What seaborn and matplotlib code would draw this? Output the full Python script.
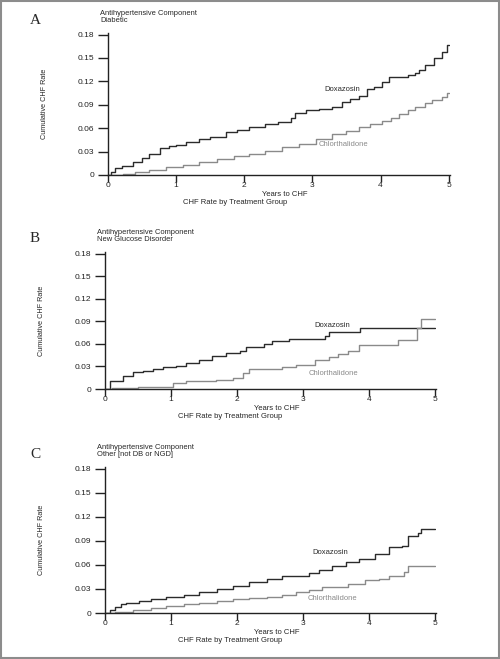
import pandas as pd
import matplotlib.pyplot as plt
import seaborn as sns
from matplotlib.patches import Rectangle

# --- data (years, cumulative CHF rate) ---
# Panel A: Diabetic
a_dox_years = [0, 0.05, 0.1, 0.2, 0.37, 0.5, 0.6, 0.76, 0.9, 1.0, 1.15, 1.34, 1.5, 1.73,
               1.9, 2.07, 2.3, 2.5, 2.68, 2.75, 2.9, 3.1, 3.29, 3.44, 3.55, 3.68, 3.8,
               3.9, 4.02, 4.12, 4.41, 4.5, 4.56, 4.66, 4.78, 4.9, 4.98, 5.0]
a_dox_rate = [0, 0.004, 0.0089, 0.012, 0.0165, 0.022, 0.027, 0.035, 0.037, 0.039, 0.042,
              0.046, 0.049, 0.0545, 0.058, 0.061, 0.065, 0.068, 0.0727, 0.080, 0.083,
              0.085, 0.087, 0.093, 0.097, 0.101, 0.110, 0.113, 0.119, 0.126, 0.128,
              0.131, 0.135, 0.141, 0.150, 0.158, 0.167, 0.167]
a_chl_years = [0, 0.22, 0.4, 0.6, 0.85, 1.1, 1.34, 1.6, 1.85, 2.07, 2.3, 2.56, 2.8, 3.05,
               3.29, 3.5, 3.68, 3.85, 4.02, 4.15, 4.27, 4.4, 4.51, 4.65, 4.76, 4.9, 4.97, 5.0]
a_chl_rate = [0, 0.0017, 0.004, 0.007, 0.010, 0.013, 0.0165, 0.020, 0.024, 0.027, 0.031,
              0.0355, 0.040, 0.046, 0.053, 0.057, 0.061, 0.065, 0.069, 0.073, 0.078,
              0.083, 0.087, 0.092, 0.0955, 0.0997, 0.105, 0.105]

# Panel B: New Glucose Disorder
b_dox_years = [0, 0.07, 0.27, 0.42, 0.57, 0.73, 0.88, 1.08, 1.23, 1.43, 1.63, 1.83, 2.04,
               2.14, 2.41, 2.54, 2.79, 3.34, 3.39, 3.87, 5.0]
b_dox_rate = [0, 0.0105, 0.0175, 0.022, 0.024, 0.027, 0.029, 0.031, 0.0346, 0.039, 0.044,
              0.0477, 0.051, 0.0556, 0.060, 0.0635, 0.0666, 0.071, 0.0753, 0.0806, 0.0806]
b_chl_years = [0, 0.1, 0.5, 0.93, 1.03, 1.23, 1.68, 1.94, 2.09, 2.19, 2.69, 2.89, 3.19,
               3.39, 3.54, 3.69, 3.85, 4.45, 4.73, 4.80, 5.0]
b_chl_rate = [0, 0.001, 0.002, 0.003, 0.0083, 0.011, 0.0118, 0.014, 0.0219, 0.027, 0.029,
              0.0325, 0.0385, 0.042, 0.046, 0.051, 0.0587, 0.0657, 0.0806, 0.0924, 0.0924]

# Panel C: Other (not DB or NGD)
c_dox_years = [0, 0.07, 0.15, 0.25, 0.32, 0.52, 0.7, 0.93, 1.2, 1.43, 1.7, 1.94, 2.19,
               2.45, 2.69, 3.09, 3.25, 3.44, 3.65, 3.85, 4.1, 4.3, 4.5, 4.6, 4.75, 4.8, 5.0]
c_dox_rate = [0, 0.004, 0.007, 0.011, 0.013, 0.0155, 0.018, 0.0205, 0.023, 0.0266, 0.030,
              0.0335, 0.039, 0.043, 0.046, 0.050, 0.054, 0.059, 0.063, 0.0675, 0.074,
              0.082, 0.084, 0.096, 0.100, 0.1043, 0.1043]
c_chl_years = [0, 0.15, 0.42, 0.7, 0.93, 1.2, 1.43, 1.7, 1.94, 2.19, 2.45, 2.69, 2.9,
               3.09, 3.29, 3.69, 3.95, 4.15, 4.3, 4.53, 4.6, 5.0]
c_chl_rate = [0, 0.001, 0.004, 0.0065, 0.009, 0.011, 0.013, 0.0155, 0.0176, 0.019, 0.0195,
              0.0225, 0.026, 0.0286, 0.033, 0.0356, 0.041, 0.043, 0.046, 0.051, 0.058, 0.058]

panel_letters = ["A", "B", "C"]
panel_subtitles = ["Diabetic", "New Glucose Disorder", "Other [not DB or NGD]"]
groups = ["Doxazosin", "Chlorthalidone"]
y_ticks = [0, 0.03, 0.06, 0.09, 0.12, 0.15, 0.18]
y_ticklabels = ["0", "0.03", "0.06", "0.09", "0.12", "0.15", "0.18"]
x_ticks = [0, 1, 2, 3, 4, 5]

panels = [
    (a_dox_years, a_dox_rate, a_chl_years, a_chl_rate),
    (b_dox_years, b_dox_rate, b_chl_years, b_chl_rate),
    (c_dox_years, c_dox_rate, c_chl_years, c_chl_rate),
]

sns.set_style("white")
plt.rcParams["font.family"] = ["Liberation Sans", "DejaVu Sans"]

fig = plt.figure(figsize=(5, 6.59), dpi=100)
W, H = 500, 659

# axes boxes in pixels: left, right, top(0.18), bottom(0)
boxes = [(108, 450, 33, 175), (105, 436, 252, 389), (105, 436, 467, 613)]
label_pos = [((3.44, 0.110), (3.46, 0.039)),
             ((3.44, 0.0845), (3.47, 0.0206)),
             ((3.42, 0.0757), (3.45, 0.0184))]
palette = {"Doxazosin": "#2b2b2b", "Chlorthalidone": "#8a8a8a"}

for i, (dy, dr, cy, cr) in enumerate(panels):
    l, r, t, b = boxes[i]
    ax = fig.add_axes([l / W, 1 - b / H, (r - l) / W, (b - t) / H])
    df = pd.concat([
        pd.DataFrame({"Years": dy, "Rate": dr, "Group": groups[0]}),
        pd.DataFrame({"Years": cy, "Rate": cr, "Group": groups[1]}),
    ])
    sns.lineplot(data=df, x="Years", y="Rate", hue="Group", palette=palette,
                 estimator=None, sort=False, drawstyle="steps-post",
                 linewidth=1.0, legend=False, ax=ax)
    ax.set_xlim(0, 5.02)
    ax.set_ylim(0, 0.182)
    ax.set_yticks(y_ticks)
    ax.set_yticklabels(y_ticklabels)
    ax.set_xticks(x_ticks)
    ax.set_xlabel("")
    ax.set_ylabel("Cumulative CHF Rate", fontsize=5.2, labelpad=21)
    ax.tick_params(axis="y", direction="out", length=7, width=1, pad=3,
                   labelsize=6, left=True, colors="#222222")
    ax.tick_params(axis="x", direction="out", length=5, width=1, pad=0,
                   labelsize=6, bottom=True, colors="#222222")
    for side in ["top", "right"]:
        ax.spines[side].set_visible(False)
    for side in ["left", "bottom"]:
        ax.spines[side].set_color("#222222")
        ax.spines[side].set_linewidth(1.0)
    ax.patch.set_alpha(0)

    (dx, dv), (cx, cv) = label_pos[i]
    ax.text(dx, dv, "Doxazosin", fontsize=5.5, color="#2b2b2b", ha="center", va="center")
    ax.text(cx, cv, "Chlorthalidone", fontsize=5.5, color="#8a8a8a", ha="center", va="center")

    # panel titles and captions
    fig.text((l - 8) / W, 1 - (t - 23) / H, "Antihypertensive Component\n" + panel_subtitles[i],
             fontsize=5.4, va="top", ha="left", linespacing=0.95)
    fig.text(30 / W, 1 - (t - 13) / H, panel_letters[i], fontsize=11,
             family="Liberation Serif", va="center", ha="left")
    fig.text((l + 0.45 * (r - l)) / W, 1 - (b + 19) / H, "Years to CHF",
             fontsize=5.5, ha="left", va="center")
    fig.text((l + 0.22 * (r - l)) / W, 1 - (b + 28) / H, "CHF Rate by Treatment Group",
             fontsize=5.5, ha="left", va="center")

fig.patches.append(Rectangle((0.002, 0.002), 0.996, 0.996, transform=fig.transFigure,
                             fill=False, edgecolor="#8c8c8c", linewidth=1.5))

plt.savefig("out.png", dpi=100)
